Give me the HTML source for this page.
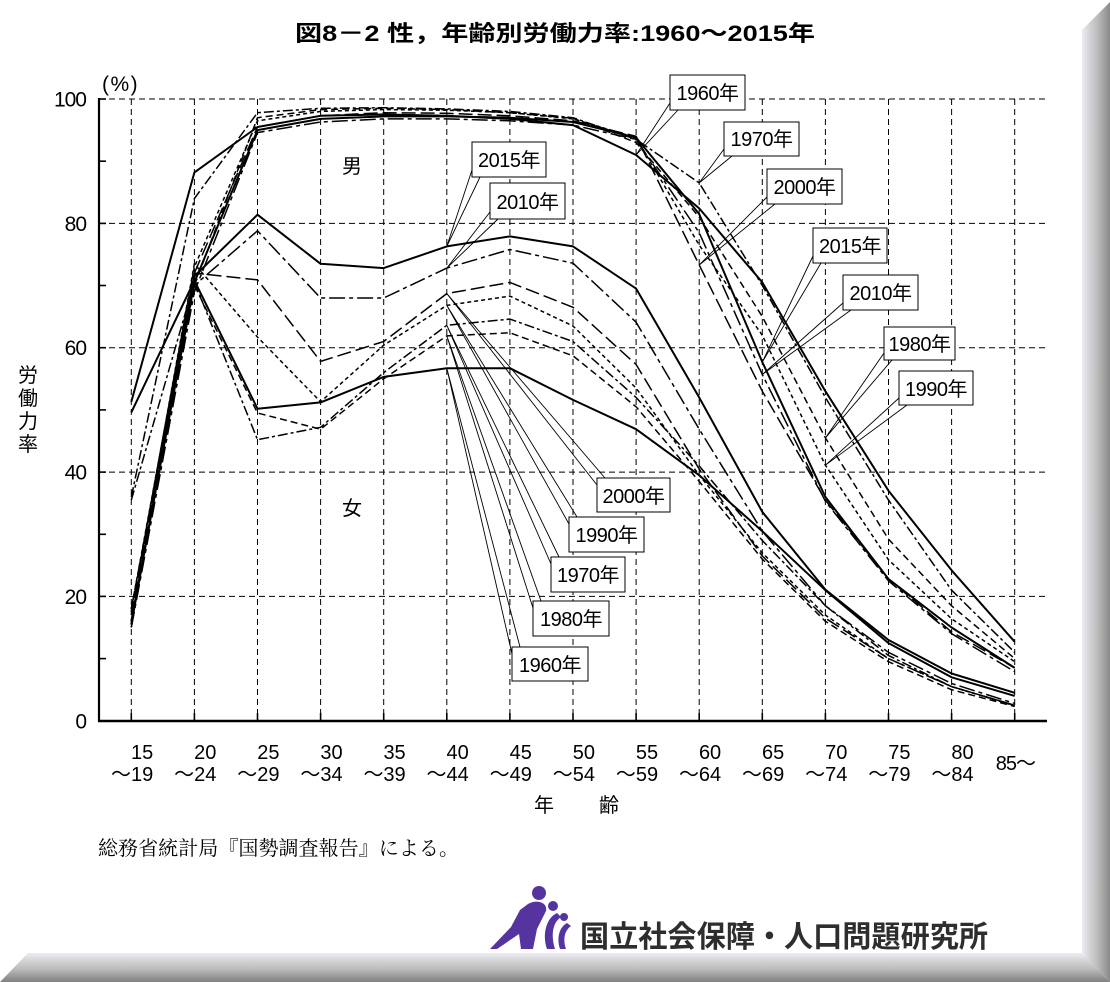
<!DOCTYPE html>
<html><head><meta charset="utf-8">
<style>
html,body{margin:0;padding:0;background:#fff;}
svg{display:block;}
text{font-family:"Liberation Sans","Noto Sans CJK JP",sans-serif;fill:#000;}
.t20{font-size:20px;}
</style></head>
<body>
<svg width="1110" height="982" viewBox="0 0 1110 982" xmlns="http://www.w3.org/2000/svg">
<defs>
<linearGradient id="gr" x1="0" y1="0" x2="1" y2="0">
<stop offset="0" stop-color="#ececf4"/><stop offset="0.2" stop-color="#d9d9dd"/><stop offset="0.55" stop-color="#bcbcbc"/><stop offset="1" stop-color="#8a8a8a"/>
</linearGradient>
<linearGradient id="gb" x1="0" y1="0" x2="0" y2="1">
<stop offset="0" stop-color="#ececf4"/><stop offset="0.2" stop-color="#d9d9dd"/><stop offset="0.55" stop-color="#bcbcbc"/><stop offset="1" stop-color="#808080"/>
</linearGradient>
</defs>
<rect width="1110" height="982" fill="#fff"/>

<!-- Title -->
<text x="295" y="41" style="font-size:22px;font-weight:bold" textLength="520" lengthAdjust="spacingAndGlyphs">図8－2 性，年齢別労働力率:1960～2015年</text>

<!-- Grid -->
<g stroke="#000" stroke-width="1" stroke-dasharray="6 4" fill="none">
<line x1="99" y1="99" x2="1046" y2="99"/>
<line x1="99" y1="223.4" x2="1046" y2="223.4"/>
<line x1="99" y1="347.7" x2="1046" y2="347.7"/>
<line x1="99" y1="472.1" x2="1046" y2="472.1"/>
<line x1="99" y1="596.4" x2="1046" y2="596.4"/>
<line x1="131.3" y1="99" x2="131.3" y2="721"/>
<line x1="194.4" y1="99" x2="194.4" y2="721"/>
<line x1="257.5" y1="99" x2="257.5" y2="721"/>
<line x1="320.6" y1="99" x2="320.6" y2="721"/>
<line x1="383.7" y1="99" x2="383.7" y2="721"/>
<line x1="446.8" y1="99" x2="446.8" y2="721"/>
<line x1="509.9" y1="99" x2="509.9" y2="721"/>
<line x1="573.0" y1="99" x2="573.0" y2="721"/>
<line x1="636.1" y1="99" x2="636.1" y2="721"/>
<line x1="699.2" y1="99" x2="699.2" y2="721"/>
<line x1="762.3" y1="99" x2="762.3" y2="721"/>
<line x1="825.4" y1="99" x2="825.4" y2="721"/>
<line x1="888.5" y1="99" x2="888.5" y2="721"/>
<line x1="951.6" y1="99" x2="951.6" y2="721"/>
<line x1="1014.7" y1="99" x2="1014.7" y2="721"/>
</g>

<!-- Axes and ticks -->
<g stroke="#000" fill="none">
<line x1="99" y1="98" x2="99" y2="722" stroke-width="2.2"/>
<line x1="98" y1="721" x2="1047" y2="721" stroke-width="2.6"/>
<g stroke-width="1.6">
<line x1="99" y1="161.2" x2="106" y2="161.2"/>
<line x1="99" y1="285.5" x2="106" y2="285.5"/>
<line x1="99" y1="409.9" x2="106" y2="409.9"/>
<line x1="99" y1="534.3" x2="106" y2="534.3"/>
<line x1="99" y1="658.6" x2="106" y2="658.6"/>
<line x1="99" y1="99" x2="106" y2="99"/>
<line x1="99" y1="223.4" x2="106" y2="223.4"/>
<line x1="99" y1="347.7" x2="106" y2="347.7"/>
<line x1="99" y1="472.1" x2="106" y2="472.1"/>
<line x1="99" y1="596.4" x2="106" y2="596.4"/>
<line x1="131.3" y1="713" x2="131.3" y2="721"/>
<line x1="194.4" y1="713" x2="194.4" y2="721"/>
<line x1="257.5" y1="713" x2="257.5" y2="721"/>
<line x1="320.6" y1="713" x2="320.6" y2="721"/>
<line x1="383.7" y1="713" x2="383.7" y2="721"/>
<line x1="446.8" y1="713" x2="446.8" y2="721"/>
<line x1="509.9" y1="713" x2="509.9" y2="721"/>
<line x1="573.0" y1="713" x2="573.0" y2="721"/>
<line x1="636.1" y1="713" x2="636.1" y2="721"/>
<line x1="699.2" y1="713" x2="699.2" y2="721"/>
<line x1="762.3" y1="713" x2="762.3" y2="721"/>
<line x1="825.4" y1="713" x2="825.4" y2="721"/>
<line x1="888.5" y1="713" x2="888.5" y2="721"/>
<line x1="951.6" y1="713" x2="951.6" y2="721"/>
<line x1="1014.7" y1="713" x2="1014.7" y2="721"/>
</g>
</g>

<!-- Y labels -->
<g style="font-size:21px" text-anchor="end" letter-spacing="-1">
<text x="86" y="106.5">100</text>
<text x="86" y="230.9">80</text>
<text x="86" y="355.2">60</text>
<text x="86" y="479.6">40</text>
<text x="86" y="603.9">20</text>
<text x="86" y="728.3">0</text>
</g>
<text x="102" y="91" style="font-size:21px" letter-spacing="1.5">(%)</text>

<!-- Y title -->
<g class="t20" text-anchor="middle">
<text x="28" y="382">労</text>
<text x="28" y="405">働</text>
<text x="28" y="428">力</text>
<text x="28" y="451">率</text>
</g>

<!-- Series: male -->
<g fill="none" stroke="#000" stroke-linejoin="round">
<polyline stroke-width="2" points="131.3,401.8 194.4,172.4 257.5,127.0 320.6,115.8 383.7,114.5 446.8,115.8 509.9,118.9 573.0,125.1 636.1,155.0 699.2,208.4 762.3,282.4 825.4,391.2 888.5,490.7 951.6,570.3 1014.7,641.8"/>
<polyline stroke-width="1.5" stroke-dasharray="10 3 3 3" points="131.3,497.0 194.4,198.5 257.5,112.7 320.6,108.3 383.7,107.7 446.8,108.9 509.9,111.4 573.0,117.7 636.1,139.4 699.2,182.9 762.3,285.5 825.4,397.5 888.5,500.1 951.6,590.2 1014.7,652.4"/>
<polyline stroke-width="1.5" stroke-dasharray="7 4" points="131.3,608.9 194.4,285.5 257.5,117.7 320.6,109.6 383.7,108.3 446.8,109.6 509.9,112.7 573.0,118.3 636.1,142.5 699.2,217.1 762.3,316.6 825.4,437.9 888.5,539.2 951.6,605.8 1014.7,658.6"/>
<polyline stroke-width="1.5" stroke-dasharray="4 3" points="131.3,608.9 194.4,266.9 257.5,120.8 320.6,111.4 383.7,109.6 446.8,110.2 509.9,112.7 573.0,118.9 636.1,137.6 699.2,245.1 762.3,335.3 825.4,465.2 888.5,559.8 951.6,618.8 1014.7,661.7"/>
<polyline stroke-width="1.5" stroke-dasharray="14 5" points="131.3,608.9 194.4,273.1 257.5,127.0 320.6,115.8 383.7,112.7 446.8,113.3 509.9,115.8 573.0,120.8 636.1,136.3 699.2,265.0 762.3,391.2 825.4,500.1 888.5,579.0 951.6,631.9 1014.7,667.9"/>
<polyline stroke-width="1.5" stroke-dasharray="16 4 4 4" points="131.3,627.5 194.4,291.8 257.5,132.6 320.6,122.0 383.7,118.9 446.8,118.9 509.9,120.8 573.0,125.1 636.1,139.4 699.2,232.7 762.3,374.5 825.4,501.3 888.5,580.9 951.6,633.7 1014.7,671.7"/>
<polyline stroke-width="2" points="131.3,621.3 194.4,282.4 257.5,130.1 320.6,118.9 383.7,116.4 446.8,116.4 509.9,117.7 573.0,122.0 636.1,137.6 699.2,214.0 762.3,362.0 825.4,497.0 888.5,579.0 951.6,627.5 1014.7,667.9"/>
</g>

<!-- Series: female -->
<g fill="none" stroke="#000" stroke-linejoin="round">
<polyline stroke-width="2" points="131.3,412.4 194.4,280.6 257.5,408.7 320.6,402.4 383.7,376.9 446.8,368.2 509.9,368.2 573.0,399.9 636.1,429.2 699.2,475.2 762.3,531.2 825.4,590.2 888.5,643.1 951.6,677.3 1014.7,695.9"/>
<polyline stroke-width="1.5" stroke-dasharray="10 3 3 3" points="131.3,500.1 194.4,281.8 257.5,439.7 320.6,427.3 383.7,372.6 446.8,325.3 509.9,319.1 573.0,341.5 636.1,397.5 699.2,465.9 762.3,540.5 825.4,605.8 888.5,655.5 951.6,686.6 1014.7,705.3"/>
<polyline stroke-width="1.5" stroke-dasharray="7 4" points="131.3,608.9 194.4,285.5 257.5,413.0 320.6,429.2 383.7,378.8 446.8,335.9 509.9,332.8 573.0,355.8 636.1,406.8 699.2,481.4 762.3,559.1 825.4,621.3 888.5,661.7 951.6,689.7 1014.7,706.5"/>
<polyline stroke-width="1.5" stroke-dasharray="4 3" points="131.3,612.0 194.4,263.8 257.5,337.1 320.6,401.8 383.7,345.2 446.8,305.4 509.9,296.1 573.0,326.0 636.1,388.1 699.2,475.2 762.3,552.9 825.4,615.1 888.5,658.6 951.6,686.6 1014.7,705.9"/>
<polyline stroke-width="1.5" stroke-dasharray="14 5" points="131.3,615.1 194.4,273.1 257.5,279.9 320.6,361.4 383.7,341.5 446.8,293.6 509.9,282.4 573.0,307.3 636.1,364.5 699.2,469.0 762.3,556.0 825.4,618.2 888.5,658.6 951.6,686.6 1014.7,705.3"/>
<polyline stroke-width="1.5" stroke-dasharray="16 4 4 4" points="131.3,627.5 194.4,285.5 257.5,230.8 320.6,298.0 383.7,298.0 446.8,268.1 509.9,249.5 573.0,263.2 636.1,322.2 699.2,429.2 762.3,531.2 825.4,605.8 888.5,652.4 951.6,683.5 1014.7,703.4"/>
<polyline stroke-width="2" points="131.3,624.4 194.4,276.2 257.5,214.7 320.6,263.8 383.7,268.1 446.8,246.4 509.9,236.4 573.0,246.4 636.1,288.6 699.2,397.5 762.3,511.9 825.4,589.6 888.5,640.0 951.6,673.5 1014.7,692.8"/>
</g>

<!-- 男 / 女 -->
<text x="352" y="173" class="t20" text-anchor="middle">男</text>
<text x="352" y="515" class="t20" text-anchor="middle">女</text>

<!-- Callout leaders -->
<g stroke="#000" stroke-width="0.9" fill="none">
<polyline points="670,103 636.1,155 678,110"/>
<polyline points="724,149 699.2,182.9 732,156"/>
<polyline points="767,197 699.2,265 775,204"/>
<polyline points="813,256 762.3,362 821,263"/>
<polyline points="843,303 762.3,374.5 851,310"/>
<polyline points="884,353 825.4,437.9 892,360"/>
<polyline points="899,398 825.4,465.2 907,405"/>
<polyline points="472,170 446.8,246.4 480,177"/>
<polyline points="490,212 446.8,268.1 498,219"/>
<polyline points="597,485 446.8,293.6 605,478"/>
<polyline points="569,524 446.8,305.4 577,517"/>
<polyline points="551,564 446.8,325.3 559,557"/>
<polyline points="533,608 446.8,335.9 541,601"/>
<polyline points="512,654 446.8,368.2 520,647"/>
</g>

<!-- Callout boxes -->
<g stroke="#000" stroke-width="1" fill="#fff">
<rect x="670" y="75" width="75" height="35"/>
<rect x="724" y="122" width="75" height="34"/>
<rect x="767" y="169" width="75" height="35"/>
<rect x="813" y="228" width="74" height="35"/>
<rect x="843" y="275" width="75" height="35"/>
<rect x="884" y="327" width="71" height="33"/>
<rect x="899" y="371" width="74" height="34"/>
<rect x="472" y="142" width="74" height="35"/>
<rect x="490" y="183" width="75" height="36"/>
<rect x="597" y="478" width="73" height="34"/>
<rect x="569" y="517" width="75" height="35"/>
<rect x="551" y="557" width="74" height="35"/>
<rect x="533" y="601" width="76" height="35"/>
<rect x="512" y="647" width="76" height="34"/>
</g>
<g class="t20" text-anchor="middle" letter-spacing="-0.5">
<text x="707.5" y="100">1960年</text>
<text x="761.5" y="146">1970年</text>
<text x="804.5" y="194">2000年</text>
<text x="850" y="253">2015年</text>
<text x="880.5" y="300">2010年</text>
<text x="919.5" y="351">1980年</text>
<text x="936" y="396">1990年</text>
<text x="509" y="167">2015年</text>
<text x="527.5" y="209">2010年</text>
<text x="633.5" y="503">2000年</text>
<text x="606.5" y="542">1990年</text>
<text x="588" y="582">1970年</text>
<text x="571" y="626">1980年</text>
<text x="550" y="672">1960年</text>
</g>

<!-- X labels -->
<g class="t20" text-anchor="end">
<text x="153.3" y="759">15</text><text x="153.3" y="781">～19</text>
<text x="216.4" y="759">20</text><text x="216.4" y="781">～24</text>
<text x="279.5" y="759">25</text><text x="279.5" y="781">～29</text>
<text x="342.6" y="759">30</text><text x="342.6" y="781">～34</text>
<text x="405.7" y="759">35</text><text x="405.7" y="781">～39</text>
<text x="468.8" y="759">40</text><text x="468.8" y="781">～44</text>
<text x="531.9" y="759">45</text><text x="531.9" y="781">～49</text>
<text x="595.0" y="759">50</text><text x="595.0" y="781">～54</text>
<text x="658.1" y="759">55</text><text x="658.1" y="781">～59</text>
<text x="721.2" y="759">60</text><text x="721.2" y="781">～64</text>
<text x="784.3" y="759">65</text><text x="784.3" y="781">～69</text>
<text x="847.4" y="759">70</text><text x="847.4" y="781">～74</text>
<text x="910.5" y="759">75</text><text x="910.5" y="781">～79</text>
<text x="973.6" y="759">80</text><text x="973.6" y="781">～84</text>
<text x="1035" y="770" letter-spacing="-1">85～</text>
</g>
<text x="534" y="812" class="t20">年</text>
<text x="599" y="812" class="t20">齢</text>

<!-- Source -->
<text x="98" y="855" style="font-size:20px;font-family:'Liberation Serif','Noto Serif CJK SC',serif" textLength="361" lengthAdjust="spacingAndGlyphs">総務省統計局『国勢調査報告』による。</text>

<!-- Logo -->
<g fill="#5634a0">
<circle cx="539" cy="893" r="7"/>
<path d="M528,904 C536,899 548,902 546,911 L537,929 L533,949 L521,949 L519,934 L497,949 L490,949 L511,927 L520,910 Z"/>
<circle cx="553" cy="906" r="5"/>
<path d="M557,913 C546,918 542,935 547,949 L555,949 C551,936 552,923 561,917 Z"/>
<circle cx="564" cy="917" r="4"/>
<path d="M567,923 C558,928 557,940 560,949 L566,949 C563,940 564,931 571,926 Z"/>
</g>
<text x="580" y="947" style="font-size:30px;font-weight:bold;fill:#2e2e2e" textLength="408" lengthAdjust="spacingAndGlyphs">国立社会保障・人口問題研究所</text>

<!-- Frame -->
<polygon points="1082,30 1110,2 1110,982 1082,953" fill="url(#gr)"/>
<polygon points="28,953 1082,953 1110,982 0,982" fill="url(#gb)"/>
</svg>
</body></html>
